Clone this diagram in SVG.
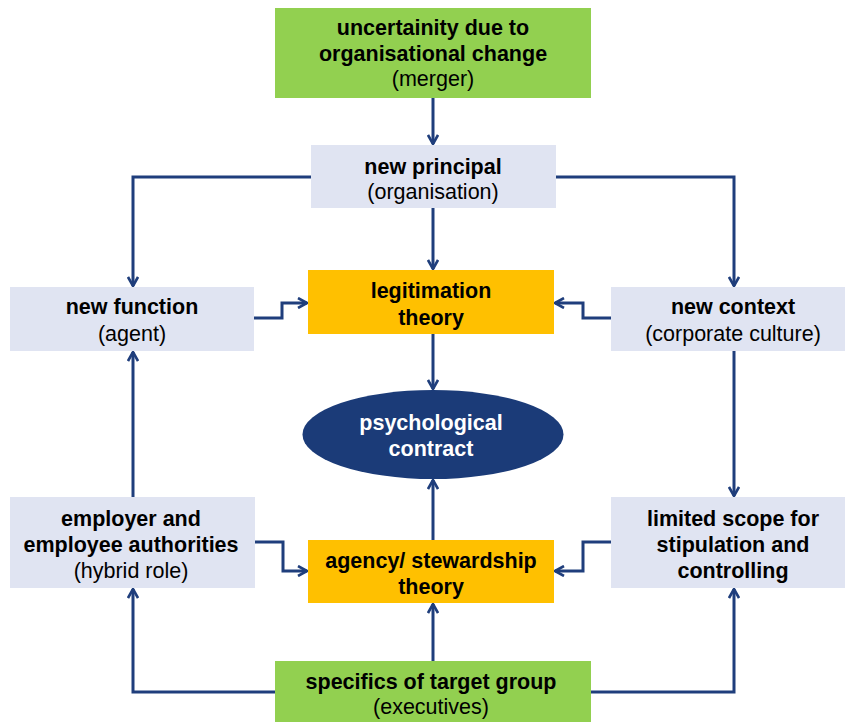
<svg xmlns="http://www.w3.org/2000/svg" width="845" height="722" viewBox="0 0 845 722">
<defs>
<marker id="arr" viewBox="0 0 12 12" refX="11" refY="6" markerWidth="12" markerHeight="12" markerUnits="userSpaceOnUse" orient="auto">
<path d="M2,1 L11,6 L2,11" fill="none" stroke="#1F3E7C" stroke-width="2.6" stroke-linejoin="miter"/>
</marker>
</defs>
<style>
.green{fill:#92D050}
.lav{fill:#E0E4F2}
.orange{fill:#FFC000}
.c{stroke:#1F3E7C;stroke-width:3;fill:none;marker-end:url(#arr)}
text{font-family:"Liberation Sans",Arial,sans-serif;font-size:21.5px;text-anchor:middle;fill:#000}
.b{font-weight:bold}
.w{fill:#fff;font-weight:bold}
</style>
<rect width="845" height="722" fill="#fff"/>
<g id="connectors">
<path class="c" d="M433,98 V144"/>
<path class="c" d="M433,208 V269"/>
<path class="c" d="M433,334 V389"/>
<path class="c" d="M433,540 V480"/>
<path class="c" d="M433,661 V604"/>
<path class="c" d="M311,177 H133 V286"/>
<path class="c" d="M556,177 H734 V286"/>
<path class="c" d="M254,318 H282 V303 H307"/>
<path class="c" d="M611,318 H583 V303 H555"/>
<path class="c" d="M734,351 V496"/>
<path class="c" d="M133,497 V352"/>
<path class="c" d="M255,542 H283 V571 H307"/>
<path class="c" d="M611,542 H583 V571 H555"/>
<path class="c" d="M275,692 H133 V589"/>
<path class="c" d="M591,692 H734 V589"/>
</g>
<g id="uncertainty">
<rect class="green" x="275" y="8" width="316" height="90"/>
<text class="b" x="433" y="35">uncertainity due to</text>
<text class="b" x="433" y="61">organisational change</text>
<text x="433" y="86">(merger)</text>
</g>
<g id="new-principal">
<rect class="lav" x="311" y="145" width="245" height="63"/>
<text class="b" x="433" y="174">new principal</text>
<text x="433" y="199">(organisation)</text>
</g>
<g id="new-function">
<rect class="lav" x="10" y="287" width="244" height="64"/>
<text class="b" x="132" y="314">new function</text>
<text x="132" y="341">(agent)</text>
</g>
<g id="legitimation">
<rect class="orange" x="308" y="270" width="246" height="64"/>
<text class="b" x="431" y="298">legitimation</text>
<text class="b" x="431" y="325">theory</text>
</g>
<g id="new-context">
<rect class="lav" x="611" y="287" width="234" height="64"/>
<text class="b" x="733" y="314">new context</text>
<text x="733" y="341">(corporate culture)</text>
</g>
<g id="psychological-contract">
<ellipse cx="433" cy="434.5" rx="130.5" ry="44.5" fill="#1B3B78"/>
<text class="w" x="431" y="430">psychological</text>
<text class="w" x="431" y="456">contract</text>
</g>
<g id="employer">
<rect class="lav" x="10" y="497" width="245" height="91"/>
<text class="b" x="131" y="526">employer and</text>
<text class="b" x="131" y="552">employee authorities</text>
<text x="131" y="578">(hybrid role)</text>
</g>
<g id="limited-scope">
<rect class="lav" x="611" y="497" width="234" height="91"/>
<text class="b" x="733" y="526">limited scope for</text>
<text class="b" x="733" y="552">stipulation and</text>
<text class="b" x="733" y="578">controlling</text>
</g>
<g id="agency">
<rect class="orange" x="308" y="540" width="246" height="63"/>
<text class="b" x="431" y="568">agency/ stewardship</text>
<text class="b" x="431" y="594">theory</text>
</g>
<g id="specifics">
<rect class="green" x="275" y="661" width="316" height="61"/>
<text class="b" x="431" y="689">specifics of target group</text>
<text x="431" y="714">(executives)</text>
</g>
</svg>
